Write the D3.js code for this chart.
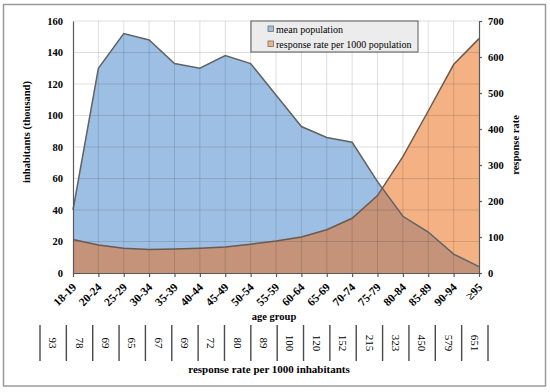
<!DOCTYPE html>
<html>
<head>
<meta charset="utf-8">
<script src="https://cdn.jsdelivr.net/npm/d3@7"></script>
<style>
body { margin: 0; background: #fff; }
text { font-family: "Liberation Serif", "Times New Roman", serif; fill: #000; }
</style>
</head>
<body>
<script>
var ageGroups = ["18-19", "20-24", "25-29", "30-34", "35-39", "40-44", "45-49", "50-54", "55-59",
  "60-64", "65-69", "70-74", "75-79", "80-84", "85-89", "90-94", "≥95"];
var meanPopulation = [40, 130, 152, 148, 133, 130, 138, 133, 113, 93, 86, 83, 58, 36, 26, 12, 4];
var responseRate = [93, 78, 69, 65, 67, 69, 72, 80, 89, 100, 120, 152, 215, 323, 450, 579, 651];
var popTicks = [0, 20, 40, 60, 80, 100, 120, 140, 160];
var rateTicks = [0, 100, 200, 300, 400, 500, 600, 700];

var width = 550,
  height = 392;

var svg = d3.select("body").append("svg")
  .attr("width", width)
  .attr("height", height);

// outer frame
svg.append("rect")
  .attr("x", 3.5).attr("y", 4.5)
  .attr("width", 542).attr("height", 381.5)
  .attr("fill", "none")
  .attr("stroke", "#9a9a9a")
  .attr("stroke-width", 1.5);

var x = d3.scalePoint().domain(ageGroups).range([73, 479]);
var yPop = d3.scaleLinear().domain([0, 160]).range([273, 21]);
var yRate = d3.scaleLinear().domain([0, 700]).range([273, 21]);

var data = ageGroups.map((g, i) => ({ group: g, pop: meanPopulation[i], rate: responseRate[i] }));

var popArea = d3.area().x(d => x(d.group)).y0(yPop(0)).y1(d => yPop(d.pop));
var rateArea = d3.area().x(d => x(d.group)).y0(yRate(0)).y1(d => yRate(d.rate));
var popLine = d3.line().x(d => x(d.group)).y(d => yPop(d.pop));
var rateLine = d3.line().x(d => x(d.group)).y(d => yRate(d.rate));

svg.append("defs").append("clipPath").attr("id", "popClip")
  .append("path").attr("d", popArea(data));

// areas
svg.append("path").attr("d", popArea(data)).attr("fill", "#9dbfe3");
svg.append("path").attr("d", rateArea(data)).attr("fill", "#f4b183");
svg.append("path").attr("d", rateArea(data)).attr("fill", "#c4937a")
  .attr("clip-path", "url(#popClip)");

// grid
var grid = svg.append("g").attr("stroke", "rgba(0,0,0,0.13)").attr("stroke-width", 1);
grid.selectAll(".hg")
  .data(popTicks.slice(1))
  .enter().append("line")
  .attr("x1", 73).attr("x2", 479)
  .attr("y1", d => yPop(d)).attr("y2", d => yPop(d));
grid.selectAll(".vg")
  .data(ageGroups.slice(1, -1))
  .enter().append("line")
  .attr("x1", d => x(d)).attr("x2", d => x(d))
  .attr("y1", 21).attr("y2", 273);

// lines
svg.append("path").attr("d", popLine(data))
  .attr("fill", "none").attr("stroke", "#5f6366").attr("stroke-width", 1.5);
svg.append("path").attr("d", rateLine(data))
  .attr("fill", "none").attr("stroke", "#6b5a50").attr("stroke-width", 1.5);

// axes
var xAxis = svg.append("g")
  .attr("transform", "translate(0,273)")
  .call(d3.axisBottom(x).tickSizeInner(4).tickSizeOuter(0));
xAxis.selectAll("text")
  .attr("transform", "rotate(-45)")
  .attr("text-anchor", "end")
  .attr("x", -8).attr("y", 9).attr("dy", "0.35em")
  .style("font-size", "11.5px").style("font-weight", "bold");

var yAxisL = svg.append("g")
  .attr("transform", "translate(73,0)")
  .call(d3.axisLeft(yPop).tickValues(popTicks).tickSize(0).tickPadding(10));
yAxisL.selectAll("text").style("font-size", "10.5px").style("font-weight", "bold");

var yAxisR = svg.append("g")
  .attr("transform", "translate(479,0)")
  .call(d3.axisRight(yRate).tickValues(rateTicks).tickSizeInner(3).tickSizeOuter(0).tickPadding(6));
yAxisR.selectAll("text").style("font-size", "10.5px").style("font-weight", "bold");

svg.selectAll(".domain, .tick line").attr("stroke", "#595959").attr("stroke-width", 1.2);
svg.selectAll(".tick text").attr("font-family", null);

// titles
svg.append("text")
  .attr("transform", "translate(26,132) rotate(-90)")
  .attr("text-anchor", "middle").attr("dy", "0.35em")
  .style("font-size", "10.5px").style("font-weight", "bold")
  .text("inhabitants (thousand)");

svg.append("text")
  .attr("transform", "translate(515,145) rotate(-90)")
  .attr("text-anchor", "middle").attr("dy", "0.35em")
  .style("font-size", "10.5px").style("font-weight", "bold")
  .text("response rate");

svg.append("text")
  .attr("x", 274).attr("y", 320)
  .attr("text-anchor", "middle")
  .style("font-size", "10.5px").style("font-weight", "bold")
  .text("age group");

// legend
var legend = svg.append("g");
legend.append("rect")
  .attr("x", 251).attr("y", 21).attr("width", 167).attr("height", 31)
  .attr("fill", "#ececec").attr("stroke", "#595959").attr("stroke-width", 1);
var legendItems = [
  { label: "mean population", color: "#9dbfe3" },
  { label: "response rate per 1000 population", color: "#f4b183" }
];
var li = legend.selectAll(".li")
  .data(legendItems)
  .enter().append("g")
  .attr("transform", (d, i) => "translate(268," + (26 + i * 15) + ")");
li.append("rect")
  .attr("width", 5.5).attr("height", 5.5)
  .attr("fill", d => d.color).attr("stroke", "#6f6f6f").attr("stroke-width", 0.8);
li.append("text")
  .attr("x", 8).attr("y", 3).attr("dy", "0.35em")
  .style("font-size", "10px")
  .text(d => d.label);

// table of response rates
var xt = d3.scaleBand().domain(ageGroups).range([40, 488]);
var table = svg.append("g");
table.selectAll(".sep")
  .data(ageGroups.concat(["end"]))
  .enter().append("line")
  .attr("x1", (d, i) => i < ageGroups.length ? xt(d) : xt.range()[1])
  .attr("x2", (d, i) => i < ageGroups.length ? xt(d) : xt.range()[1])
  .attr("y1", 325).attr("y2", 361)
  .attr("stroke", "#4a4a4a").attr("stroke-width", 1.4);
table.selectAll(".val")
  .data(data)
  .enter().append("text")
  .attr("transform", d => "translate(" + (xt(d.group) + xt.bandwidth() / 2) + ",343) rotate(90)")
  .attr("text-anchor", "middle").attr("dy", "0.35em")
  .style("font-size", "11px")
  .text(d => d.rate);

svg.append("text")
  .attr("x", 269).attr("y", 373)
  .attr("text-anchor", "middle")
  .style("font-size", "11px").style("font-weight", "bold")
  .text("response rate per 1000 inhabitants");
</script>
</body>
</html>
